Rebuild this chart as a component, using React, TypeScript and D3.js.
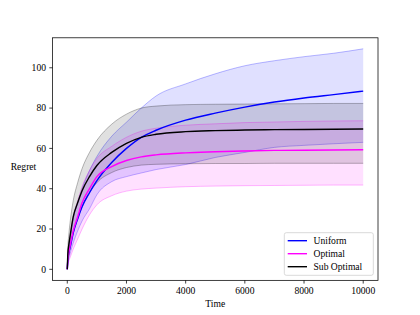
import * as d3 from "d3";

const times = [0, 20, 50, 100, 200, 350, 500, 750, 1000, 1500, 2000, 2500, 3000, 4000, 5000, 6000, 7000, 8000, 9000, 10000];

const uniformMean = [0, 5, 8, 11, 18, 25, 31, 38, 44, 53, 60, 65.5, 69, 74, 77.5, 80.5, 83, 85, 86.7, 88.4];
const uniformUpper = [0, 7, 11, 16, 25, 33, 40, 49, 56, 66, 73, 80, 86, 92, 97, 101, 103.5, 105.5, 107.2, 109.4];
const uniformLower = [0, 3, 5, 8, 13, 19, 24, 30, 37, 43.5, 46, 47.8, 49.5, 52, 55.5, 58, 60.5, 61.5, 62.3, 63];

const optimalMean = [0, 5, 8, 12, 19, 26, 33, 40, 46, 51, 54, 55.8, 56.8, 57.8, 58.3, 58.7, 59, 59.1, 59.2, 59.3];
const optimalUpper = [0, 8, 12, 17, 26, 34, 41, 49, 55, 61, 65.5, 68.5, 70, 71.5, 72.2, 72.8, 73.1, 73.4, 73.6, 73.7];
const optimalLower = [0, 2, 4, 6, 10, 15, 20, 27, 32, 36.5, 38.8, 39.8, 40.3, 41, 41.3, 41.5, 41.6, 41.7, 41.8, 41.8];

const subMean = [0, 8, 12, 17, 26, 33, 39, 46, 51.5, 58, 62.5, 65.5, 67, 68.3, 68.8, 69.1, 69.3, 69.4, 69.5, 69.6];
const subUpper = [0, 11, 17, 24, 34, 43, 50, 58, 64, 72, 77, 80, 81, 81.7, 81.9, 82, 82.1, 82.2, 82.3, 82.3];
const subLower = [0, 4, 7, 11, 18, 25, 31, 38, 43, 48, 50.5, 51.7, 52.1, 52.4, 52.5, 52.5, 52.6, 52.6, 52.6, 52.6];

const xTicks = [0, 2000, 4000, 6000, 8000, 10000];
const yTicks = [0, 20, 40, 60, 80, 100];

const series = [
  { name: "Uniform", color: "#0000ff", mean: uniformMean, upper: uniformUpper, lower: uniformLower },
  { name: "Optimal", color: "#ff00ff", mean: optimalMean, upper: optimalUpper, lower: optimalLower },
  { name: "Sub Optimal", color: "#000000", mean: subMean, upper: subUpper, lower: subLower },
];

const App = () => {
  const width = 420;
  const height = 315;
  const marginLeft = 52.5;
  const marginRight = 42;
  const marginTop = 37.8;
  const marginBottom = 34.65;
  const font = "'Liberation Serif', 'Times New Roman', serif";
  const fs = 9.6;

  const xMax = d3.max(times)!;
  const yMax = d3.max(series.flatMap((s) => s.upper))!;
  const x = d3.scaleLinear([-0.05 * xMax, xMax * 1.05], [marginLeft, width - marginRight]);
  const y = d3.scaleLinear([-0.05 * yMax, yMax * 1.05], [height - marginBottom, marginTop]);

  const line = d3
    .line<number>()
    .x((_, i) => x(times[i]))
    .y((d) => y(d))
    .curve(d3.curveMonotoneX);

  const area = (upper: number[], lower: number[]) =>
    d3
      .area<number>()
      .x((_, i) => x(times[i]))
      .y0((_, i) => y(lower[i]))
      .y1((_, i) => y(upper[i]))
      .curve(d3.curveMonotoneX)(upper)!;

  const x0 = marginLeft;
  const x1 = width - marginRight;
  const y0 = height - marginBottom;
  const y1 = marginTop;

  return (
    <svg width={width} height={height} style={{ position: "absolute", left: 0, top: 0 }} fontFamily={font}>
      <rect width={width} height={height} fill="white" />
      {series.map((s) => (
        <g key={"band" + s.name}>
          <path d={area(s.upper, s.lower)} fill={s.color} fillOpacity={0.12} />
          <path d={line(s.upper)!} fill="none" stroke={s.color} strokeOpacity={0.3} strokeWidth={0.9} />
          <path d={line(s.lower)!} fill="none" stroke={s.color} strokeOpacity={0.3} strokeWidth={0.9} />
        </g>
      ))}
      {series.map((s) => (
        <path key={"line" + s.name} d={line(s.mean)!} fill="none" stroke={s.color} strokeWidth={1.4} />
      ))}
      <rect x={x0} y={y1} width={x1 - x0} height={y0 - y1} fill="none" stroke="black" strokeWidth={0.75} />
      <g fontSize={fs} fill="black">
        {xTicks.map((t) => (
          <g key={"x" + t}>
            <line x1={x(t)} x2={x(t)} y1={y0} y2={y0 + 3.2} stroke="black" strokeWidth={0.75} />
            <text x={x(t)} y={y0 + 13.2} textAnchor="middle">{t}</text>
          </g>
        ))}
        {yTicks.map((t) => (
          <g key={"y" + t}>
            <line x1={x0} x2={x0 - 3.2} y1={y(t)} y2={y(t)} stroke="black" strokeWidth={0.75} />
            <text x={x0 - 6.5} y={y(t) + 3.3} textAnchor="end">{t}</text>
          </g>
        ))}
        <text x={(x0 + x1) / 2} y={306.5} textAnchor="middle">Time</text>
        <text x={23.5} y={170} textAnchor="middle">Regret</text>
      </g>
      <g>
        <rect x={284.3} y={232.7} width={89} height={42.6} rx={2} fill="white" fillOpacity={0.8} stroke="#cccccc" strokeWidth={0.75} />
        {series.map((s, i) => (
          <g key={"leg" + s.name}>
            <line x1={287.7} x2={307} y1={240.7 + i * 13} y2={240.7 + i * 13} stroke={s.color} strokeWidth={1.4} />
            <text x={313.5} y={240.7 + i * 13 + 3.3} fontSize={fs}>{s.name}</text>
          </g>
        ))}
      </g>
    </svg>
  );
};

export default App;
